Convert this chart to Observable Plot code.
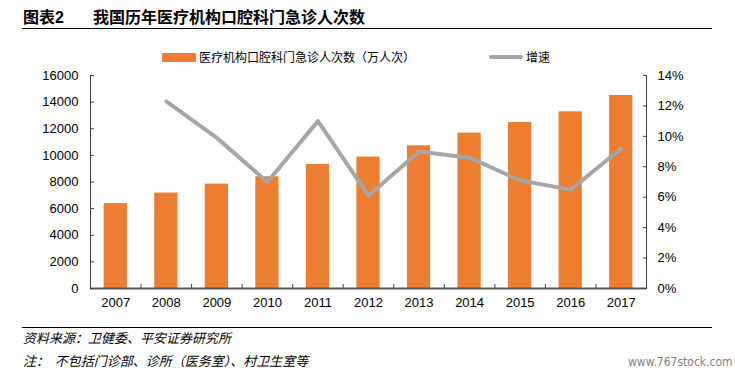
<!DOCTYPE html>
<html>
<head>
<meta charset="utf-8">
<script src="https://cdn.jsdelivr.net/npm/d3@7"></script>
<script src="https://cdn.jsdelivr.net/npm/@observablehq/plot@0.6"></script>
<style>
  html, body { margin: 0; padding: 0; background: #fff; }
  #wrap { position: relative; width: 735px; height: 371px; overflow: hidden; font-family: "Liberation Sans", Arial, "Noto Sans CJK SC", sans-serif; color: #000; }
  #chart { position: absolute; left: 0; top: 0; }
  .abs { position: absolute; white-space: nowrap; }
  .title { font-size: 16px; font-weight: bold; font-family: "Liberation Sans", "Noto Sans CJK SC", sans-serif; line-height: 16px; }
  .leg { font-size: 12px; line-height: 12px; font-family: "Noto Sans CJK SC", sans-serif; }
  .foot { font-size: 13px; line-height: 13px; font-style: italic; font-family: "Noto Sans CJK SC", sans-serif; }
  .hr { position: absolute; height: 0; border-top: 1.5px solid #000; }
</style>
</head>
<body>
<div id="wrap">
  <div id="chart"></div>
  <div class="abs title" style="left:23px; top:10px;">图表2</div>
  <div class="abs title" style="left:93px; top:10px;">我国历年医疗机构口腔科门急诊人次数</div>
  <div class="hr" style="left:22px; width:690px; top:27.5px;"></div>

  <div class="abs" style="left:162px; top:53px; width:34px; height:9px; background:#ED7D31; border-radius:1px;"></div>
  <div class="abs leg" style="left:199px; top:51px;">医疗机构口腔科门急诊人次数（万人次）</div>
  <div class="abs" style="left:489px; top:55px; width:34px; height:4px; background:#A6A6A6; border-radius:2px;"></div>
  <div class="abs leg" style="left:526px; top:51px;">增速</div>

  <div class="hr" style="left:22px; width:690px; top:326.5px;"></div>
  <div class="abs foot" style="left:23px; top:331px;">资料来源：卫健委、平安证券研究所</div>
  <div class="abs foot" style="left:23px; top:354px;">注：&nbsp;&nbsp;不包括门诊部、诊所（医务室）、村卫生室等</div>
  <div class="abs" style="left:628px; top:355px; font-size:12px; color:#7f7f7f; font-family:'DejaVu Sans Condensed','Liberation Sans Narrow',sans-serif;">www.767stock.com</div>
</div>
<script>
const years = [2007, 2008, 2009, 2010, 2011, 2012, 2013, 2014, 2015, 2016, 2017];
const visits = [6380, 7170, 7840, 8390, 9310, 9870, 10720, 11670, 12470, 13270, 14500];
const growth = [null, 12.3, 9.9, 7.0, 11.0, 6.1, 9.0, 8.6, 7.1, 6.5, 9.2];
const leftTicks = [0, 2000, 4000, 6000, 8000, 10000, 12000, 14000, 16000];
const rightTicks = [0, 2, 4, 6, 8, 10, 12, 14];

const yMax = 16000, pMax = 14;
const toY = p => p * yMax / pMax;
const table = years.map((yr, i) => ({year: yr, visits: visits[i], growth: growth[i]}));
const boundaries = years.slice(0, -1).map(y => y + 0.5);

const chart = Plot.plot({
  width: 735,
  height: 371,
  marginLeft: 90,
  marginRight: 89,
  marginTop: 75,
  marginBottom: 83,
  style: {fontFamily: "'Liberation Sans', Arial, sans-serif", fontSize: "13px", color: "#000", background: "transparent"},
  x: {type: "linear", domain: [years[0] - 0.5, years[years.length - 1] + 0.5]},
  y: {domain: [0, yMax]},
  marks: [
    Plot.rectY(table, {x1: d => d.year - 0.23, x2: d => d.year + 0.23, y: "visits", fill: "#ED7D31"}),
    Plot.lineY(table, {x: "year", y: d => d.growth == null ? NaN : toY(d.growth), stroke: "#A6A6A6", strokeWidth: 4, strokeLinejoin: "round", strokeLinecap: "round"}),
    Plot.ruleX([years[0] - 0.5, years[years.length - 1] + 0.5], {y1: 0, y2: yMax, stroke: "#404040", strokeWidth: 1}),
    Plot.ruleY([0], {stroke: "#595959", strokeWidth: 2}),
    Plot.axisY({anchor: "left", ticks: leftTicks, tickSize: -4, tickPadding: 16, tickFormat: d => String(d), label: null, stroke: "#404040", fontSize: 13}),
    Plot.axisY({anchor: "right", ticks: rightTicks.map(toY), tickSize: -4, tickPadding: 15, tickFormat: d => Math.round(d * pMax / yMax) + "%", label: null, stroke: "#404040", fontSize: 13}),
    Plot.axisX({anchor: "bottom", ticks: years, tickSize: 0, tickPadding: 9, tickFormat: d => String(d), label: null, fontSize: 13}),
    Plot.axisX({anchor: "bottom", ticks: boundaries, tickSize: -4, tickFormat: () => "", label: null, stroke: "#404040"})
  ]
});
document.getElementById("chart").appendChild(chart);
</script>
</body>
</html>
